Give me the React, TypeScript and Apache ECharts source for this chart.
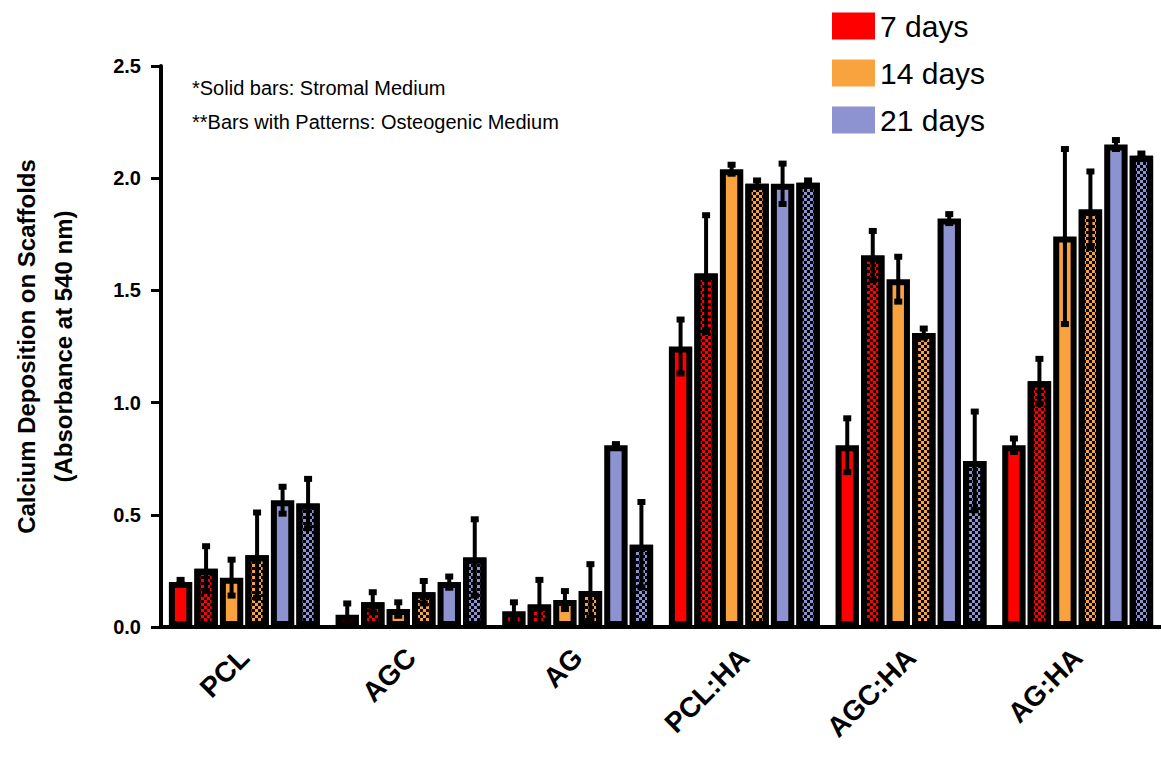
import React, { useEffect, useRef } from "react";
import * as echarts from "echarts";

const categories = ["PCL", "AGC", "AG", "PCL:HA", "AGC:HA", "AG:HA"];
const yTicks = [0, 0.5, 1.0, 1.5, 2.0, 2.5];

const d7Stromal = [0.2, 0.055, 0.07, 1.25, 0.81, 0.81];
const d7StromalErr = [0.01, 0.05, 0.04, 0.12, 0.12, 0.03];
const d7Osteo = [0.26, 0.11, 0.1, 1.575, 1.655, 1.095];
const d7OsteoErr = [0.1, 0.045, 0.11, 0.26, 0.11, 0.1];
const d14Stromal = [0.22, 0.08, 0.12, 2.04, 1.55, 1.74];
const d14StromalErr = [0.08, 0.03, 0.04, 0.02, 0.1, 0.39];
const d14Osteo = [0.32, 0.155, 0.16, 1.975, 1.31, 1.86];
const d14OsteoErr = [0.19, 0.05, 0.12, 0.015, 0.02, 0.17];
const d21Stromal = [0.565, 0.2, 0.81, 1.975, 1.82, 2.15];
const d21StromalErr = [0.06, 0.025, 0.005, 0.09, 0.02, 0.02];
const d21Osteo = [0.55, 0.31, 0.367, 1.98, 0.74, 2.1];
const d21OsteoErr = [0.11, 0.17, 0.19, 0.01, 0.22, 0.01];

const legendNames = ["7 days", "14 days", "21 days"];
const noteLines = [
  "*Solid bars: Stromal Medium",
  "**Bars with Patterns: Osteogenic Medium",
];

const RED = "#FF0000";
const ORANGE = "#F9A33F";
const BLUE = "#8C93D0";
const FONT = "'Liberation Sans', Arial, sans-serif";

const BAR_W = 23.4;
const GAP = 2.1;
const PITCH = BAR_W + GAP;

export default function App() {
  const ref = useRef<HTMLDivElement>(null);
  useEffect(() => {
    if (!ref.current) return;
    const chart = echarts.init(ref.current, null, { renderer: "svg" });

    const checker = {
      symbol: "rect",
      symbolSize: 1,
      dashArrayX: [
        [3, 3],
        [0, 3, 3, 0],
      ],
      dashArrayY: [3, 0],
      color: "#000000",
    };

    const seriesDefs = [
      { name: "7 days", data: d7Stromal, err: d7StromalErr, color: RED, pattern: false },
      { name: "7 days osteogenic", data: d7Osteo, err: d7OsteoErr, color: RED, pattern: true },
      { name: "14 days", data: d14Stromal, err: d14StromalErr, color: ORANGE, pattern: false },
      { name: "14 days osteogenic", data: d14Osteo, err: d14OsteoErr, color: ORANGE, pattern: true },
      { name: "21 days", data: d21Stromal, err: d21StromalErr, color: BLUE, pattern: false },
      { name: "21 days osteogenic", data: d21Osteo, err: d21OsteoErr, color: BLUE, pattern: true },
    ];

    const barSeries = seriesDefs.map((s) => ({
      type: "bar",
      name: s.name,
      data: s.data,
      barWidth: BAR_W,
      barGap: (GAP / BAR_W) * 100 + "%",
      itemStyle: {
        color: s.color,
        borderColor: "#000",
        borderWidth: 6,
        ...(s.pattern ? { decal: checker } : {}),
      },
      z: 2,
    }));

    const errData: number[][] = [];
    seriesDefs.forEach((s, si) => {
      s.data.forEach((v, ci) => {
        errData.push([ci, si, v, s.err[ci]]);
      });
    });

    const errSeries = {
      type: "custom",
      name: "errors",
      data: errData,
      encode: { x: 0, y: 2 },
      z: 5,
      clip: false,
      renderItem: (params: any, api: any) => {
        const ci = api.value(0);
        const si = api.value(1);
        const v = api.value(2);
        const e = api.value(3);
        const x = api.coord([ci, v])[0] + (si - 2.5) * PITCH;
        const yTop = api.coord([ci, v + e])[1];
        const yBot = api.coord([ci, Math.max(v - e, 0.012)])[1];
        return {
          type: "group",
          children: [
            {
              type: "line",
              shape: { x1: x, y1: yTop, x2: x, y2: yBot },
              style: { stroke: "#000", lineWidth: 4 },
            },
            {
              type: "rect",
              shape: { x: x - 4, y: yTop - 3, width: 8, height: 6 },
              style: { fill: "#000" },
            },
            {
              type: "rect",
              shape: { x: x - 4, y: yBot - 3, width: 8, height: 6 },
              style: { fill: "#000" },
            },
          ],
        };
      },
    };

    chart.setOption({
      animation: false,
      textStyle: { fontFamily: FONT },
      grid: { left: 153, right: -6, top: 66, bottom: 155 },
      legend: {
        data: legendNames,
        orient: "vertical",
        left: 827,
        top: 6,
        itemWidth: 43,
        itemHeight: 27,
        itemGap: 17,
        icon: "rect",
        selectedMode: false,
        itemStyle: { borderWidth: 0 },
        textStyle: { fontSize: 30, color: "#000", fontFamily: FONT },
      },
      xAxis: {
        type: "category",
        data: categories,
        axisLine: { lineStyle: { color: "#000", width: 4 } },
        axisTick: { alignWithLabel: true, length: 10, lineStyle: { color: "#000", width: 3 } },
        axisLabel: {
          rotate: 45,
          margin: 26,
          fontSize: 28,
          fontWeight: "bold",
          color: "#000",
          fontFamily: FONT,
        },
      },
      yAxis: {
        type: "value",
        min: yTicks[0],
        max: yTicks[yTicks.length - 1],
        interval: 0.5,
        name: "Calcium Deposition on Scaffolds\n(Absorbance at 540 nm)",
        nameLocation: "middle",
        nameGap: 79,
        nameTextStyle: {
          fontSize: 24,
          fontWeight: "bold",
          color: "#000",
          lineHeight: 37,
          fontFamily: FONT,
        },
        axisLine: { show: true, lineStyle: { color: "#000", width: 4 } },
        axisTick: { show: true, length: 10, lineStyle: { color: "#000", width: 3 } },
        axisLabel: {
          margin: 20,
          fontSize: 20,
          fontWeight: "bold",
          color: "#000",
          fontFamily: FONT,
          formatter: (v: number) => v.toFixed(1),
        },
        splitLine: { show: false },
      },
      graphic: noteLines.map((t, i) => ({
        type: "text",
        left: 192,
        top: 78 + i * 34,
        style: { text: t, fontSize: 20, fill: "#000", fontFamily: FONT },
      })),
      series: [...barSeries, errSeries],
    });

    return () => chart.dispose();
  }, []);

  return (
    <div
      ref={ref}
      style={{ position: "absolute", left: 0, top: 0, width: 1161, height: 782 }}
    />
  );
}
